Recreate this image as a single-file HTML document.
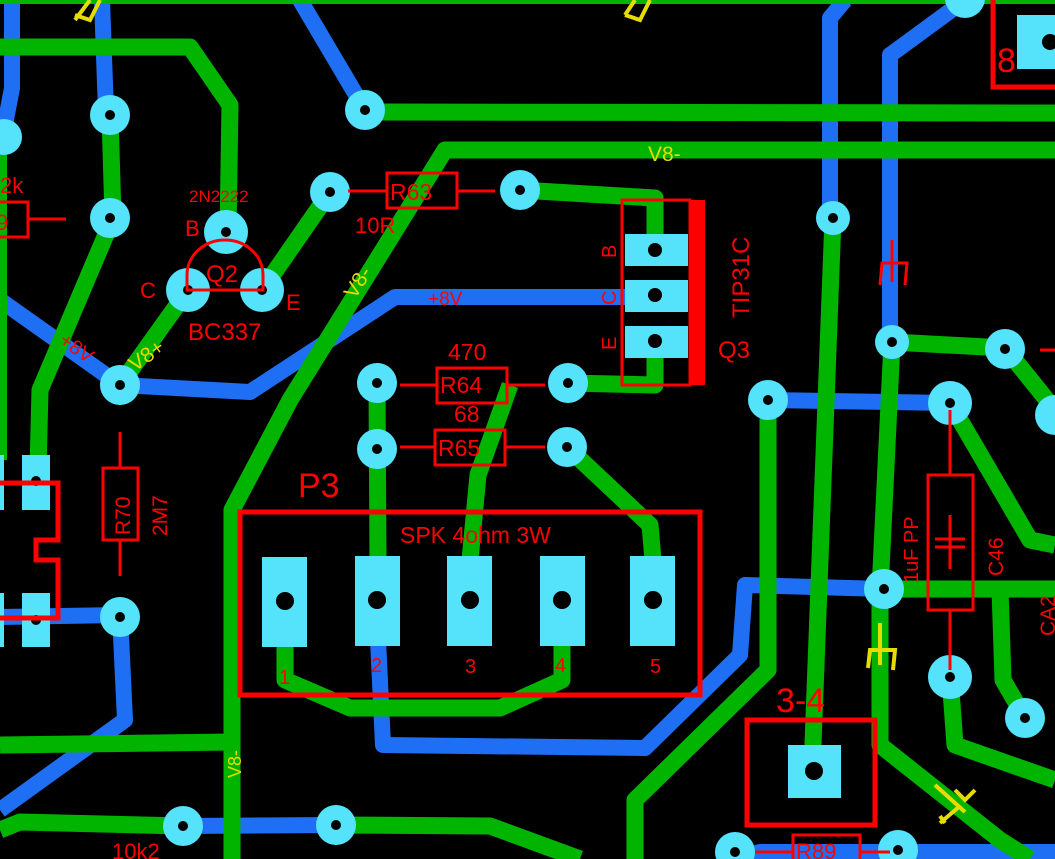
<!DOCTYPE html>
<html><head><meta charset="utf-8"><style>html,body{margin:0;padding:0;background:#000}svg{display:block}</style></head><body>
<svg width="1055" height="859" viewBox="0 0 1055 859" xmlns="http://www.w3.org/2000/svg" font-family="Liberation Sans, DejaVu Sans, sans-serif">
<rect width="1055" height="859" fill="#000"/>
<g fill="none" stroke="#1f6ff5" stroke-width="16" stroke-linejoin="round">
<polyline points="12,0 12,88 4,130"/>
<polyline points="102,0 106,112"/>
<polyline points="300,0 365,110"/>
<polyline points="0,300 120,385 250,392 395,297 655,297"/>
<polyline points="0,617 120,615 125,720 0,810"/>
<polyline points="378,640 383,745 645,748 740,655 745,585 884,589"/>
<polyline points="183,826 336,825"/>
<polyline points="768,400 950,403"/>
<polyline points="845,0 830,18 830,218"/>
<polyline points="965,0 890,55 890,342"/>
<polyline points="735,859 760,852 1055,852"/>
</g>
<g fill="none" stroke="#00b400" stroke-width="17" stroke-linejoin="round">
<polyline points="0,2 1055,2" stroke-width="4"/>
<polyline points="0,47 190,47 230,105 228,232"/>
<polyline points="110,115 113,218 40,390 38,470"/>
<polyline points="3,150 3,460" stroke-width="8"/>
<polyline points="365,112 1055,113"/>
<polyline points="1055,150 445,150 290,400 232,510 232,859"/>
<polyline points="262,290 330,192"/>
<polyline points="188,290 120,385"/>
<polyline points="520,190 655,198 655,250"/>
<polyline points="655,340 655,385 568,383"/>
<polyline points="510,385 478,475 470,560"/>
<polyline points="377,383 378,560"/>
<polyline points="567,447 650,525 653,560"/>
<polyline points="285,640 285,680 350,708 500,708 562,680 562,640"/>
<polyline points="0,745 232,742"/>
<polyline points="0,830 20,822 183,826"/>
<polyline points="336,825 490,826 580,859"/>
<polyline points="833,218 812,770"/>
<polyline points="768,400 768,670 635,800 635,859"/>
<polyline points="892,342 1005,348 1055,410"/>
<polyline points="892,342 880,590 880,745 1000,840 1030,859"/>
<polyline points="884,589 1055,589"/>
<polyline points="950,403 1030,540 1055,545"/>
<polyline points="1000,590 1003,680 1025,718"/>
<polyline points="950,677 955,745 1055,780"/>
</g>
<g fill="#55e3fc">
<circle cx="4" cy="137" r="18"/><circle cx="110" cy="115" r="20"/><circle cx="110" cy="218" r="20"/>
<circle cx="226" cy="232" r="22"/><circle cx="188" cy="290" r="22"/><circle cx="262" cy="290" r="22"/>
<circle cx="120" cy="385" r="20"/><circle cx="330" cy="192" r="20"/><circle cx="520" cy="190" r="20"/>
<circle cx="365" cy="110" r="20"/><circle cx="377" cy="383" r="20"/><circle cx="377" cy="449" r="20"/>
<circle cx="568" cy="383" r="20"/><circle cx="567" cy="447" r="20"/><circle cx="120" cy="617" r="20"/>
<circle cx="183" cy="826" r="20"/><circle cx="336" cy="825" r="20"/><circle cx="833" cy="218" r="17"/>
<circle cx="892" cy="342" r="17"/><circle cx="1005" cy="349" r="20"/><circle cx="1055" cy="415" r="20"/>
<circle cx="768" cy="400" r="20"/><circle cx="950" cy="403" r="22"/><circle cx="884" cy="589" r="20"/>
<circle cx="950" cy="677" r="22"/><circle cx="1025" cy="718" r="20"/><circle cx="735" cy="852" r="20"/>
<circle cx="898" cy="850" r="20"/><circle cx="965" cy="-2" r="20"/>
<rect x="22" y="455" width="28" height="55"/><rect x="22" y="593" width="28" height="54"/>
<rect x="0" y="455" width="4" height="55"/><rect x="0" y="593" width="4" height="54"/>
<rect x="625" y="234" width="63" height="32"/><rect x="625" y="280" width="63" height="32"/><rect x="625" y="326" width="63" height="32"/>
<rect x="262" y="557" width="45" height="90"/><rect x="355" y="556" width="45" height="90"/><rect x="447" y="556" width="45" height="90"/><rect x="540" y="556" width="45" height="90"/><rect x="630" y="556" width="45" height="90"/>
<rect x="788" y="745" width="53" height="53"/><rect x="1017" y="15" width="38" height="54"/>
</g>
<g fill="#000">
<circle cx="110" cy="115" r="5"/><circle cx="110" cy="218" r="5"/><circle cx="226" cy="232" r="5"/><circle cx="188" cy="290" r="5"/><circle cx="262" cy="290" r="5"/>
<circle cx="120" cy="385" r="5"/><circle cx="330" cy="192" r="5"/><circle cx="520" cy="190" r="5"/><circle cx="365" cy="110" r="5"/>
<circle cx="377" cy="383" r="5"/><circle cx="377" cy="449" r="5"/><circle cx="568" cy="383" r="5"/><circle cx="567" cy="447" r="5"/>
<circle cx="120" cy="617" r="5"/><circle cx="183" cy="826" r="5"/><circle cx="336" cy="825" r="5"/><circle cx="833" cy="218" r="5"/>
<circle cx="892" cy="342" r="5"/><circle cx="1005" cy="349" r="5"/><circle cx="768" cy="400" r="5"/><circle cx="950" cy="403" r="5"/>
<circle cx="884" cy="589" r="5"/><circle cx="950" cy="677" r="5"/><circle cx="1025" cy="718" r="5"/><circle cx="735" cy="852" r="5"/><circle cx="898" cy="850" r="5"/>
<circle cx="36" cy="481" r="5"/><circle cx="36" cy="620" r="5"/>
<circle cx="655" cy="250" r="7"/><circle cx="655" cy="295" r="7"/><circle cx="655" cy="341" r="7"/>
<circle cx="285" cy="601" r="9"/><circle cx="377" cy="600" r="9"/><circle cx="470" cy="600" r="9"/><circle cx="562" cy="600" r="9"/><circle cx="653" cy="600" r="9"/>
<circle cx="814" cy="771" r="9"/><circle cx="1050" cy="42" r="8"/>
</g>
<g fill="none" stroke="#f00" stroke-width="3">
<line x1="348" y1="191" x2="387" y2="191"/><rect x="387" y="173" width="70" height="35"/><line x1="457" y1="191" x2="495" y2="191"/>
<path d="M187,290 V275 A38,35 0 0 1 263,275 V290 Z"/>
<rect x="622" y="200" width="68" height="185"/>
<line x1="400" y1="385" x2="437" y2="385"/><rect x="437" y="368" width="70" height="35"/><line x1="507" y1="385" x2="545" y2="385"/>
<line x1="400" y1="447" x2="435" y2="447"/><rect x="435" y="430" width="70" height="35"/><line x1="505" y1="447" x2="545" y2="447"/>
<rect x="240" y="512" width="460" height="183" stroke-width="5"/>
<line x1="120" y1="432" x2="120" y2="468"/><rect x="103" y="468" width="35" height="72"/><line x1="120" y1="540" x2="120" y2="576"/>
<polyline points="0,483 58,483 58,540 36,540 36,560 58,560 58,618 0,618" stroke-width="5"/>
<line x1="950" y1="410" x2="950" y2="475"/><rect x="928" y="475" width="45" height="135"/><line x1="950" y1="610" x2="950" y2="670"/>
<line x1="935" y1="539" x2="965" y2="539"/><line x1="935" y1="547" x2="965" y2="547"/><line x1="950" y1="515" x2="950" y2="569"/>
<rect x="747" y="720" width="128" height="105" stroke-width="5"/>
<rect x="793" y="835" width="67" height="30"/><line x1="755" y1="852" x2="793" y2="852"/><line x1="860" y1="852" x2="890" y2="852"/>
<polyline points="993,0 993,87 1055,87" stroke-width="5"/>
<polyline points="0,202 28,202 28,237 0,237"/><line x1="28" y1="219" x2="66" y2="219"/>
<line x1="1040" y1="350" x2="1055" y2="350"/>
<polyline points="892,240 892,282"/><polyline points="880,285 882,263 907,263 905,285"/>
</g>
<rect x="690" y="200" width="15" height="185" fill="#f00"/>
<g fill="#f00" font-size="22">
<text x="390" y="200" font-size="23">R63</text><text x="355" y="233">10R</text>
<text x="189" y="202" font-size="17">2N2222</text>
<text x="185" y="236">B</text><text x="140" y="298">C</text><text x="286" y="310">E</text>
<text x="206" y="282" font-size="24">Q2</text><text x="188" y="340" font-size="24">BC337</text>
<text x="440" y="393" font-size="23">R64</text><text x="448" y="360" font-size="23">470</text>
<text x="454" y="422" font-size="23">68</text><text x="438" y="456" font-size="23">R65</text>
<text x="428" y="305" font-size="19">+8V</text>
<text x="298" y="497" font-size="34">P3</text>
<text x="400" y="543" font-size="23">SPK 4ohm 3W</text>
<text x="279" y="684" font-size="20">1</text><text x="371" y="672" font-size="20">2</text><text x="465" y="673" font-size="20">3</text><text x="555" y="672" font-size="20">4</text><text x="650" y="673" font-size="20">5</text>
<text x="718" y="358" font-size="24">Q3</text>
<text x="776" y="712" font-size="34">3-4</text>
<text x="796" y="859" font-size="22">R89</text>
<text x="997" y="72" font-size="34">8</text>
<text x="0" y="193">2k</text><text x="-4" y="230">9</text>
<text x="112" y="859" font-size="22">10k2</text>
<text transform="translate(616,258) rotate(-90)" font-size="20">B</text>
<text transform="translate(616,305) rotate(-90)" font-size="20">C</text>
<text transform="translate(616,350) rotate(-90)" font-size="20">E</text>
<text transform="translate(749,318) rotate(-90)" font-size="24">TIP31C</text>
<text transform="translate(130,535) rotate(-90)" font-size="21">R70</text>
<text transform="translate(167,536) rotate(-90)" font-size="21">2M7</text>
<text transform="translate(918,583) rotate(-90)" font-size="20">1uF PP</text>
<text transform="translate(1003,576) rotate(-90)" font-size="21">C46</text>
<text transform="translate(1055,636) rotate(-90)" font-size="21">CA2</text>
<text transform="translate(58,343) rotate(35)" font-size="20">+8V</text>
</g>
<g fill="#e6dc00" font-size="21">
<text x="648" y="161">V8-</text>
<text transform="translate(135,372) rotate(-35)">V8+</text>
<text transform="translate(355,300) rotate(-58)">V8-</text>
<text transform="translate(241,778) rotate(-90)" font-size="18">V8-</text>
</g>
<g fill="none" stroke="#e6dc00" stroke-width="4">
<polyline points="880,623 880,665"/><polyline points="868,668 870,650 895,650 893,670"/>
<polyline points="935,785 965,812"/><polyline points="940,823 960,806"/><polyline points="945,823 940,816"/><polyline points="955,790 965,800 975,790"/>
<polyline points="75,20 90,0"/><polyline points="75,15 90,20 100,0"/>
<polyline points="625,15 635,0"/><polyline points="625,15 640,20 650,0"/>
</g>
</svg>
</body></html>
